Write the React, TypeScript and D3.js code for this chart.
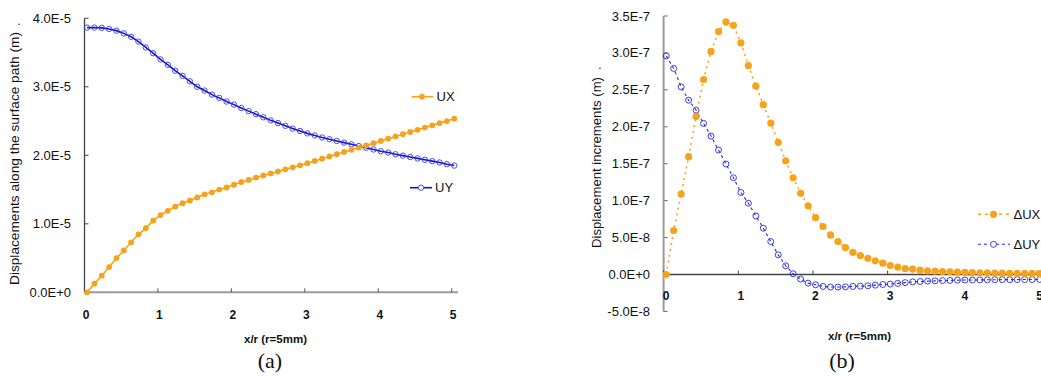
import React from "react";
import * as d3 from "d3";

// ---------- data ----------
const xTicks = [0, 1, 2, 3, 4, 5];
// x positions of samples (x/r), points sit slightly right of the tick grid
const xValues: number[] = d3.range(51).map((i) => +(i * 0.1 + 0.035).toFixed(3));

// (a) displacements along the surface path, units of 1E-5 m
const uxValues = [
  0, 0.126, 0.242, 0.368, 0.499, 0.61, 0.73, 0.847, 0.935, 1.046,
  1.128, 1.19, 1.25, 1.3, 1.34, 1.385, 1.43, 1.46, 1.5, 1.53,
  1.57, 1.61, 1.64, 1.675, 1.705, 1.735, 1.765, 1.795, 1.825, 1.853,
  1.885, 1.918, 1.95, 1.983, 2.015, 2.048, 2.08, 2.112, 2.145, 2.177,
  2.21, 2.242, 2.275, 2.307, 2.34, 2.372, 2.405, 2.437, 2.47, 2.5, 2.535,
];
const uyValues = [
  3.864, 3.865, 3.86, 3.845, 3.82, 3.78, 3.73, 3.66, 3.574, 3.49,
  3.4, 3.32, 3.235, 3.16, 3.08, 3.0, 2.945, 2.886, 2.838, 2.785,
  2.74, 2.69, 2.645, 2.6, 2.555, 2.51, 2.47, 2.43, 2.39, 2.355,
  2.32, 2.29, 2.26, 2.235, 2.21, 2.185, 2.16, 2.135, 2.11, 2.085,
  2.06, 2.04, 2.015, 1.995, 1.975, 1.955, 1.935, 1.915, 1.895, 1.87, 1.85,
];
const aYTicks = [0, 1, 2, 3, 4];
const aYTickLabels = ["0.0E+0", "1.0E-5", "2.0E-5", "3.0E-5", "4.0E-5"];

// (b) displacement increments, units of 1E-7 m
const duxValues = [
  0, 0.595, 1.09, 1.595, 2.14, 2.64, 3.02, 3.29, 3.42, 3.375,
  3.135, 2.83, 2.55, 2.3, 2.05, 1.79, 1.54, 1.31, 1.1, 0.93,
  0.77, 0.65, 0.536, 0.446, 0.365, 0.3, 0.257, 0.22, 0.185, 0.154,
  0.122, 0.1, 0.081, 0.073, 0.059, 0.05, 0.045, 0.04, 0.036, 0.032,
  0.028, 0.026, 0.024, 0.022, 0.02, 0.018, 0.017, 0.016, 0.015, 0.014, 0.013,
];
const duyValues = [
  2.96, 2.79, 2.54, 2.36, 2.226, 2.046, 1.874, 1.685, 1.496, 1.31,
  1.11, 0.965, 0.793, 0.627, 0.446, 0.266, 0.118, 0.01, -0.062, -0.117,
  -0.139, -0.162, -0.17, -0.17, -0.167, -0.162, -0.158, -0.153, -0.144, -0.135,
  -0.13, -0.12, -0.11, -0.1, -0.095, -0.09, -0.086, -0.082, -0.08, -0.077,
  -0.075, -0.074, -0.073, -0.072, -0.071, -0.07, -0.07, -0.069, -0.068, -0.068, -0.067,
];
const bYTicks = [-0.5, 0, 0.5, 1, 1.5, 2, 2.5, 3, 3.5];
const bYTickLabels = ["-5.0E-8", "0.0E+0", "5.0E-8", "1.0E-7", "1.5E-7", "2.0E-7", "2.5E-7", "3.0E-7", "3.5E-7"];

const ORANGE = "#F7A21B";
const BLUE = "#1010D0";
const BLUE_B = "#2A2AD6";
const FONT = "'Liberation Sans', Arial, sans-serif";

export default function App() {
  // ----- panel (a) scales -----
  const ax = d3.scaleLinear().domain([0, 5]).range([84.5, 451.7]);
  const ay = d3.scaleLinear().domain([0, 4]).range([292.3, 18.3]);
  // ----- panel (b) scales -----
  const bx = d3.scaleLinear().domain([0, 5]).range([663.6, 1037]);
  const by = d3.scaleLinear().domain([0, 3.5]).range([274.5, 16]);

  const aLineX = d3.line<number>().x((_, i) => ax(xValues[i])).y((d) => ay(d));
  const bLineX = d3.line<number>().x((_, i) => bx(xValues[i])).y((d) => by(d));

  return (
    <svg
      width={1041}
      height={376}
      style={{ position: "absolute", left: 0, top: 0, background: "#fff" }}
      fontFamily={FONT}
    >
      {/* ================= Panel (a) ================= */}
      <g>
        {/* y ticks + labels */}
        {aYTicks.map((t, i) => (
          <g key={"ayt" + i}>
            <line x1={ax(0)} x2={ax(0) + 4} y1={ay(t)} y2={ay(t)} stroke="#444" strokeWidth={1} />
            <text x={71} y={ay(t) + 4.5} textAnchor="end" fontSize={13} fill="#111">
              {aYTickLabels[i]}
            </text>
          </g>
        ))}
        {/* x axis */}
        <line x1={ax(0)} x2={458} y1={ay(0)} y2={ay(0)} stroke="#9a9a9a" strokeWidth={2} />
        {xTicks.map((t) => (
          <g key={"axt" + t}>
            <line x1={ax(t)} x2={ax(t)} y1={ay(0)} y2={ay(0) - 4} stroke="#555" strokeWidth={1} />
            <text x={ax(t) + 1.5} y={318.5} textAnchor="middle" fontSize={12} fontWeight="bold" fill="#111">
              {t}
            </text>
          </g>
        ))}
        {/* y axis */}
        <line x1={ax(0)} x2={ax(0)} y1={ay(4)} y2={ay(0) + 1} stroke="#444" strokeWidth={1.3} />

        {/* series UY */}
        <path d={aLineX(uyValues) || ""} fill="none" stroke={BLUE} strokeWidth={1.6} />
        {uyValues.map((v, i) => (
          <circle key={"uy" + i} cx={ax(xValues[i])} cy={ay(v)} r={2.7} fill="none" stroke="#3b3be0" strokeWidth={0.9} />
        ))}
        {/* series UX */}
        <path d={aLineX(uxValues) || ""} fill="none" stroke={ORANGE} strokeWidth={1.6} />
        {uxValues.map((v, i) => (
          <circle key={"ux" + i} cx={ax(xValues[i])} cy={ay(v)} r={2.9} fill={ORANGE} />
        ))}

        {/* legend */}
        <line x1={411.7} x2={433.3} y1={96.7} y2={96.7} stroke={ORANGE} strokeWidth={1.6} />
        <circle cx={422} cy={96.7} r={2.9} fill={ORANGE} />
        <text x={436.5} y={101.3} fontSize={13} fill="#111">UX</text>
        <line x1={410} x2={432} y1={187.7} y2={187.7} stroke={BLUE} strokeWidth={1.6} />
        <circle cx={421} cy={187.7} r={2.7} fill="#fff" stroke="#3b3be0" strokeWidth={0.9} />
        <text x={435} y={192.3} fontSize={13} fill="#111">UY</text>

        {/* titles */}
        <text
          transform="translate(19,158.5) rotate(-90)"
          textAnchor="middle"
          fontSize={12}
          fill="#111"
          textLength={253}
          lengthAdjust="spacingAndGlyphs"
        >
          Displacements along the surface path (m)
        </text>
        <text x={19} y={25} textAnchor="middle" fontSize={12} fill="#111">.</text>
        <text x={275.5} y={342.5} textAnchor="middle" fontSize={11.5} fontWeight="bold" fill="#111">
          x/r (r=5mm)
        </text>
        <text x={270} y={368} textAnchor="middle" fontSize={22} fontFamily="'Liberation Serif', 'Times New Roman', serif" fill="#111">
          (a)
        </text>
      </g>

      {/* ================= Panel (b) ================= */}
      <g>
        {bYTicks.map((t, i) => (
          <g key={"byt" + i}>
            <line x1={bx(0)} x2={bx(0) + 4} y1={by(t)} y2={by(t)} stroke="#666" strokeWidth={1} />
            <text x={650} y={by(t) + 4.5} textAnchor="end" fontSize={13} fill="#111">
              {bYTickLabels[i]}
            </text>
          </g>
        ))}
        {/* y axis */}
        <line x1={bx(0)} x2={bx(0)} y1={by(3.5)} y2={by(-0.5)} stroke="#9a9a9a" strokeWidth={2} />
        {/* x axis at zero */}
        <line x1={bx(0)} x2={1041} y1={by(0)} y2={by(0)} stroke="#444" strokeWidth={1.3} />
        {xTicks.map((t) => (
          <g key={"bxt" + t}>
            <line x1={bx(t)} x2={bx(t)} y1={by(0)} y2={by(0) - 4} stroke="#444" strokeWidth={1} />
            <text x={bx(t) + 2.5} y={300} textAnchor="middle" fontSize={12} fontWeight="bold" fill="#111">
              {t}
            </text>
          </g>
        ))}

        {/* ΔUY */}
        <path d={bLineX(duyValues) || ""} fill="none" stroke={BLUE_B} strokeWidth={1.1} strokeDasharray="3,3" />
        {duyValues.map((v, i) => (
          <circle key={"duy" + i} cx={bx(xValues[i])} cy={by(v)} r={3} fill="none" stroke={BLUE_B} strokeWidth={0.9} />
        ))}
        {/* ΔUX */}
        <path d={bLineX(duxValues) || ""} fill="none" stroke={ORANGE} strokeWidth={1.6} strokeDasharray="2,4" />
        {duxValues.map((v, i) => (
          <circle key={"dux" + i} cx={bx(xValues[i])} cy={by(v)} r={3.6} fill={ORANGE} />
        ))}

        {/* legend */}
        <line x1={978} x2={1010} y1={214.3} y2={214.3} stroke={ORANGE} strokeWidth={1.6} strokeDasharray="3,4" />
        <circle cx={993.5} cy={214.3} r={3.6} fill={ORANGE} />
        <text x={1013.5} y={219} fontSize={13} fill="#111">ΔUX</text>
        <line x1={978} x2={1010} y1={244.3} y2={244.3} stroke={BLUE_B} strokeWidth={1.1} strokeDasharray="3,3" />
        <circle cx={993.5} cy={244.3} r={3} fill="#fff" stroke={BLUE_B} strokeWidth={0.9} />
        <text x={1013.5} y={249} fontSize={13} fill="#111">ΔUY</text>

        {/* titles */}
        <text
          transform="translate(601,162.5) rotate(-90)"
          textAnchor="middle"
          fontSize={12}
          fill="#111"
          textLength={171}
          lengthAdjust="spacingAndGlyphs"
        >
          Displacement increments (m)
        </text>
        <text x={600} y={69} textAnchor="middle" fontSize={12} fill="#111">.</text>
        <text x={859.5} y={339.5} textAnchor="middle" fontSize={11.5} fontWeight="bold" fill="#111">
          x/r (r=5mm)
        </text>
        <text x={842} y={368} textAnchor="middle" fontSize={22} fontFamily="'Liberation Serif', 'Times New Roman', serif" fill="#111">
          (b)
        </text>
      </g>
    </svg>
  );
}
